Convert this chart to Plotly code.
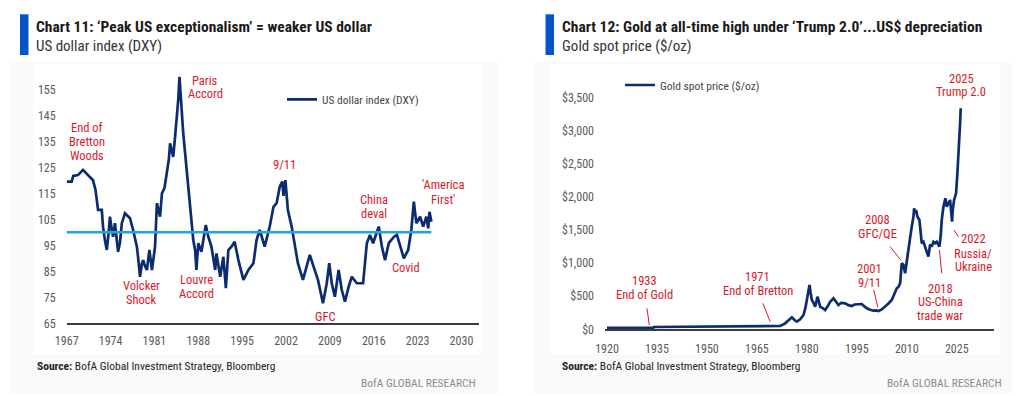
import plotly.graph_objects as go

# ---------------- data ----------------
dxy_years = [1967.0, 1967.8, 1968.05, 1968.8, 1969.6, 1970.2, 1970.7, 1971.2, 1971.6, 1972.0,
             1972.6, 1972.8, 1973.1, 1973.4, 1973.7, 1973.9, 1974.2, 1974.4, 1974.7, 1975.0,
             1975.2, 1975.5, 1975.8, 1976.3, 1977.1, 1977.6, 1978.2, 1978.5, 1978.7, 1979.0,
             1979.2, 1979.5, 1979.8, 1980.2, 1980.6, 1981.1, 1981.4, 1981.9, 1982.2, 1982.6,
             1983.0, 1983.3, 1983.5, 1984.0, 1984.3, 1984.6, 1984.8, 1985.0, 1985.3, 1985.6,
             1985.9, 1986.4, 1986.9, 1987.2, 1987.5, 1987.7, 1988.0, 1988.5, 1989.2, 1989.6,
             1990.1, 1990.7, 1990.9, 1991.5, 1992.0, 1992.4, 1992.8, 1993.3, 1993.8, 1994.4,
             1995.2, 1996.0, 1996.8, 1997.3, 1997.8, 1998.6, 1999.4, 2000.0, 2000.5, 2001.0,
             2001.4, 2001.6, 2001.9, 2002.3, 2002.9, 2003.4, 2003.9, 2004.7, 2005.3, 2005.8,
             2006.4, 2007.1, 2007.9, 2008.5, 2008.9, 2009.3, 2009.8, 2010.4, 2010.9, 2011.4,
             2012.0, 2012.5, 2013.3, 2014.3, 2014.9, 2015.4, 2015.9, 2016.8, 2017.3, 2017.8,
             2018.4, 2019.2, 2019.7, 2020.2, 2020.8, 2021.5, 2022.0, 2022.4, 2022.8, 2023.4,
             2023.9, 2024.4, 2024.7, 2024.9, 2025.2]
dxy_values = [119.5, 119.5, 121.7, 122.0, 124.0, 122.5, 121.4, 120.0, 116.3, 108.6,
              108.6, 102.0, 97.0, 93.2, 100.0, 106.0, 101.0, 98.3, 103.5, 97.0,
              92.5, 96.0, 103.5, 107.3, 105.4, 100.9, 94.5, 88.0, 82.9, 88.0,
              89.3, 87.0, 85.5, 93.2, 85.5, 94.5, 111.2, 106.0, 115.0, 117.0,
              124.0, 128.0, 134.2, 129.0, 136.8, 145.0, 150.9, 159.8, 147.0, 138.0,
              130.4, 117.5, 102.0, 97.0, 93.0, 85.5, 95.8, 92.5, 102.8, 98.3,
              94.5, 85.5, 91.9, 82.9, 90.6, 78.5, 93.2, 94.5, 96.4, 89.3,
              81.7, 85.5, 88.1, 97.0, 100.9, 94.5, 102.2, 109.8, 111.2, 117.5,
              119.5, 114.0, 120.1, 108.6, 102.2, 95.8, 88.1, 81.7, 86.8, 91.3,
              86.8, 81.7, 72.7, 80.4, 88.1, 80.4, 75.2, 85.5, 77.8, 73.3,
              79.1, 82.9, 80.4, 80.4, 95.8, 99.0, 95.8, 102.2, 94.5, 89.3,
              95.8, 98.2, 99.0, 94.5, 90.0, 93.2, 100.9, 111.8, 103.5, 106.0,
              102.2, 106.0, 101.5, 107.9, 104.1]
dxy_ref_years = [1967.0, 2025.2]
dxy_ref_values = [100, 100]

gold_years = [1920.0, 1933.9, 1934.1, 1965.9, 1969.0, 1972.0, 1973.5, 1975.0, 1975.5, 1976.3,
              1977.0, 1978.0, 1979.0, 1979.6, 1980.0, 1980.5, 1980.8, 1981.1, 1981.5, 1982.0,
              1982.5, 1983.2, 1983.6, 1984.0, 1984.8, 1985.5, 1986.3, 1987.0, 1988.0, 1988.7,
              1989.5, 1990.3, 1991.5, 1992.5, 1993.5, 1994.3, 1995.0, 1996.0, 1996.5, 1997.2,
              1998.0, 1999.0, 2000.0, 2000.8, 2001.5, 2002.5, 2003.5, 2004.5, 2005.5, 2006.5,
              2007.0, 2007.5, 2008.0, 2008.5, 2009.0, 2009.5, 2010.0, 2010.5, 2011.0, 2011.5,
              2012.0, 2012.2, 2012.5, 2012.8, 2013.2, 2013.8, 2014.2, 2014.5, 2015.0, 2015.5,
              2016.0, 2016.5, 2017.0, 2017.5, 2018.0, 2018.5, 2019.0, 2019.8, 2020.2, 2020.5,
              2021.0, 2021.6, 2022.0, 2022.5, 2023.0, 2023.6, 2023.8, 2024.2, 2024.8, 2025.2,
              2025.5, 2025.8, 2026.0, 2026.2]
gold_values = [20.67, 20.67, 35, 39, 50, 50, 90, 160, 181, 140,
               115, 150, 216, 330, 443, 640, 669, 560, 443, 400,
               341, 492, 400, 341, 320, 292, 350, 417, 468, 420,
               367, 400, 393, 365, 352, 375, 378, 385, 382, 350,
               317, 295, 281, 285, 276, 300, 341, 390, 443, 580,
               619, 640, 695, 997, 971, 846, 1050, 1220, 1380, 1550,
               1700, 1828, 1750, 1800, 1701, 1651, 1400, 1299, 1320, 1248,
               1200, 1097, 1280, 1248, 1320, 1299, 1320, 1248, 1420, 1651,
               1850, 1980, 1852, 1900, 1953, 1625, 1800, 1953, 2054, 2356,
               2600, 2810, 3100, 3338]

dxy_ticks = [1967, 1974, 1981, 1988, 1995, 2002, 2009, 2016, 2023, 2030]
dxy_yticks = [65, 75, 85, 95, 105, 115, 125, 135, 145, 155]
gold_ticks = [1920, 1935, 1950, 1965, 1980, 1995, 2010, 2025]
gold_yticks = [0, 500, 1000, 1500, 2000, 2500, 3000, 3500]
gold_yticktext = ["$0", "$500", "$1,000", "$1,500", "$2,000", "$2,500", "$3,000", "$3,500"]

# ---------------- style ----------------
W, H = 1024, 396
FONT = "Liberation Sans Narrow, Roboto Condensed, Arial Narrow, Liberation Sans, sans-serif"
NAVY = "#0B2C6F"
CYAN = "#1FA6E0"
RED = "#D7192D"
BLUE_BAR = "#0655C8"
TICK = "#5a5a5a"


def px_x(x):
    return x / W


def px_y(y):
    return 1 - y / H


fig = go.Figure()
fig.add_trace(go.Scatter(x=dxy_years, y=dxy_values, mode="lines", name="US dollar index (DXY)",
                         line=dict(color=NAVY, width=2.7), xaxis="x", yaxis="y", legend="legend"))
fig.add_trace(go.Scatter(x=dxy_ref_years, y=dxy_ref_values, mode="lines", showlegend=False,
                         line=dict(color=CYAN, width=2.6), xaxis="x", yaxis="y", hoverinfo="skip"))
fig.add_trace(go.Scatter(x=gold_years, y=gold_values, mode="lines", name="Gold spot price ($/oz)",
                         line=dict(color=NAVY, width=2.7), xaxis="x2", yaxis="y2", legend="legend2"))

axis_common = dict(showgrid=False, zeroline=False, ticks="", automargin=False,
                   tickfont=dict(family=FONT, size=12, color=TICK))
fig.update_layout(
    width=W, height=H, margin=dict(l=0, r=0, t=0, b=0, autoexpand=False),
    paper_bgcolor="white", plot_bgcolor="rgba(0,0,0,0)",
    font=dict(family=FONT),
    xaxis=dict(domain=[66.7 / W, 479 / W], range=[1967, 2032.8], tickvals=dxy_ticks, anchor="y",
               showline=True, linecolor="#3c3c3c", linewidth=2, ticklabelstandoff=5, **axis_common),
    yaxis=dict(domain=[px_y(323.3), px_y(76.3)], range=[65, 160], tickvals=dxy_yticks, anchor="x",
               showline=False, ticklabelstandoff=10, **axis_common),
    xaxis2=dict(domain=[605 / W, 993.7 / W], range=[1919.4, 2036.1], tickvals=gold_ticks, anchor="y2",
                showline=True, linecolor="#3c3c3c", linewidth=2, ticklabelstandoff=7, **axis_common),
    yaxis2=dict(domain=[px_y(329.3), px_y(77.7)], range=[0, 3800], tickvals=gold_yticks,
                ticktext=gold_yticktext, anchor="x2", showline=False, ticklabelstandoff=10, **axis_common),
    legend=dict(x=px_x(282), y=px_y(99.3), xanchor="left", yanchor="middle", bgcolor="rgba(0,0,0,0)",
                font=dict(family=FONT, size=11.5, color="#444"), itemwidth=30),
    legend2=dict(x=px_x(620), y=px_y(85), xanchor="left", yanchor="middle", bgcolor="rgba(0,0,0,0)",
                 font=dict(family=FONT, size=11.5, color="#444"), itemwidth=30),
)

shapes = []
# faint panels
for (x0, x1) in [(10, 497), (535, 1012)]:
    shapes.append(dict(type="rect", xref="paper", yref="paper", x0=px_x(x0), x1=px_x(x1),
                       y0=px_y(394), y1=px_y(62), fillcolor="#fafafa", line=dict(width=0), layer="below"))
for (x0, x1) in [(33, 482), (550, 1000)]:
    shapes.append(dict(type="rect", xref="paper", yref="paper", x0=px_x(x0), x1=px_x(x1),
                       y0=px_y(354), y1=px_y(64), fillcolor="#ffffff", line=dict(width=0), layer="below"))
# blue title bars
for x0 in [20, 545.5]:
    shapes.append(dict(type="rect", xref="paper", yref="paper", x0=px_x(x0), x1=px_x(x0 + 8.5),
                       y0=px_y(55), y1=px_y(14.3), fillcolor=BLUE_BAR, line=dict(width=0)))

# gold leader lines (year, value) pairs
gold_leaders = [
    ((1932.0, 317), (1932.7, 65)),
    ((1966.8, 393), (1969.0, 115)),
    ((2000.1, 594), (2001.3, 332)),
    ((2005.0, 1248), (2008.2, 1047)),
    ((2020.5, 846), (2019.8, 1198)),
    ((2025.5, 1399), (2024.2, 1500)),
]
for (a, b) in gold_leaders:
    shapes.append(dict(type="line", xref="x2", yref="y2", x0=a[0], y0=a[1], x1=b[0], y1=b[1],
                       line=dict(color=RED, width=1)))
fig.update_layout(shapes=shapes)

annotations = []


def label(lines, x, ys, xref, yref, size=12.5):
    for t, y in zip(lines, ys):
        annotations.append(dict(text=t, x=x, y=y, xref=xref, yref=yref, showarrow=False,
                                xanchor="center", yanchor="middle",
                                font=dict(family=FONT, size=size, color=RED)))


# left chart labels
label(["End of", "Bretton", "Woods"], 1970.3, [140.2, 134.8, 129.6], "x", "y")
label(["Paris", "Accord"], 1989.1, [158.2, 153.2], "x", "y")
label(["9/11"], 2001.7, [126.2], "x", "y")
label(["China", "deval"], 2016.0, [112.7, 107.3], "x", "y")
label(["'America", "First'"], 2027.1, [118.2, 112.8], "x", "y")
label(["Volcker", "Shock"], 1978.9, [79.5, 74.2], "x", "y")
label(["Louvre", "Accord"], 1987.7, [81.7, 76.4], "x", "y")
label(["GFC"], 2008.2, [67.5], "x", "y")
label(["Covid"], 2021.1, [86.5], "x", "y")
# right chart labels
label(["1933", "End of Gold"], 1931.2, [740, 529], "x2", "y2")
label(["1971", "End of Bretton"], 1965.3, [795, 590], "x2", "y2")
label(["2001", "9/11"], 1998.8, [911, 710], "x2", "y2")
label(["2008", "GFC/QE"], 2001.1, [1662, 1450], "x2", "y2")
label(["2018", "US-China", "trade war"], 2020.1, [619, 417, 216], "x2", "y2")
label(["2022", "Russia/", "Ukraine"], 2029.9, [1364, 1148, 946], "x2", "y2")
label(["2025", "Trump 2.0"], 2026.4, [3781, 3585], "x2", "y2")

# titles, subtitles, sources
for x0, title, sub, xr in [
    (34, "Chart 11: \u2018Peak US exceptionalism\u2019 = weaker US dollar", "US dollar index (DXY)", 478),
    (559.5, "Chart 12: Gold at all-time high under \u2018Trump 2.0\u2019...US$ depreciation", "Gold spot price ($/oz)", 1004),
]:
    annotations.append(dict(text="<b>" + title + "</b>", x=px_x(x0), y=px_y(26.5), xref="paper", yref="paper",
                            showarrow=False, xanchor="left", yanchor="middle",
                            font=dict(family=FONT, size=15.5, color="#1a1a1a")))
    annotations.append(dict(text=sub, x=px_x(x0), y=px_y(46), xref="paper", yref="paper",
                            showarrow=False, xanchor="left", yanchor="middle",
                            font=dict(family=FONT, size=15, color="#333333")))
    annotations.append(dict(text="<b>Source:</b> BofA Global Investment Strategy, Bloomberg",
                            x=px_x(x0 + 0.5), y=px_y(366), xref="paper", yref="paper",
                            showarrow=False, xanchor="left", yanchor="middle",
                            font=dict(family=FONT, size=11.5, color="#222222")))
    annotations.append(dict(text="BofA GLOBAL RESEARCH", x=px_x(xr), y=px_y(382.5), xref="paper", yref="paper",
                            showarrow=False, xanchor="right", yanchor="middle",
                            font=dict(family=FONT, size=11.5, color="#8c8c8c")))

fig.update_layout(annotations=annotations)
fig.write_html("out.html", config={"displayModeBar": False, "staticPlot": True},
               post_script="document.body.style.margin='0px';document.body.style.overflow='hidden';")
